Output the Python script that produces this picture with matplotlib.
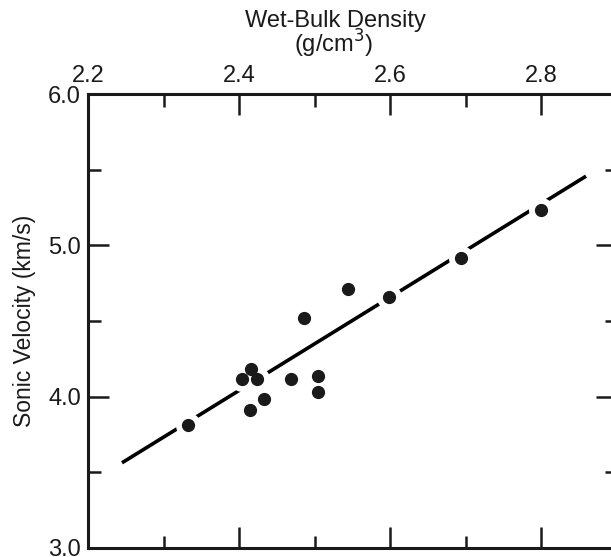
import matplotlib
matplotlib.use("Agg")
import matplotlib.pyplot as plt
import numpy as np
from matplotlib.ticker import MultipleLocator

plt.rcParams['font.family'] = ['Liberation Sans', 'DejaVu Sans']

# ================= DATA =================
density = [2.332, 2.404, 2.416, 2.423, 2.414, 2.433, 2.469,
           2.486, 2.504, 2.504, 2.544, 2.598, 2.693, 2.800]
velocity = [3.815, 4.12, 4.185, 4.117, 3.909, 3.987, 4.117,
            4.519, 4.134, 4.03, 4.713, 4.658, 4.914, 5.234]

# regression line end points
fit_x = [2.245, 2.859]
fit_y = [3.563, 5.457]

# ================= FIGURE =================
W, H = 611, 557
fig = plt.figure(figsize=(W / 100, H / 100), dpi=100)

left, right, top, bottom = 88, 617, 94, 548
ax = fig.add_axes([left / W, 1 - bottom / H, (right - left) / W, (bottom - top) / H])

ax.plot(fit_x, fit_y, color='black', lw=2.6, solid_capstyle='butt', zorder=1)
# white halos break the line around the dots
ax.plot(density, velocity, 'o', ms=18, mfc='white', mec='none', zorder=2)
ax.plot(density, velocity, 'o', ms=8.5, mfc='#1a1a1a', mec='#1a1a1a', zorder=3)

ax.set_xlim(2.2, 2.9)
ax.set_ylim(3.0, 6.0)

ax.xaxis.set_major_locator(MultipleLocator(0.2))
ax.xaxis.set_minor_locator(MultipleLocator(0.1))
ax.yaxis.set_major_locator(MultipleLocator(1.0))
ax.yaxis.set_minor_locator(MultipleLocator(0.5))
ax.xaxis.set_major_formatter(plt.FuncFormatter(lambda v, p: f"{v:.1f}"))
ax.yaxis.set_major_formatter(plt.FuncFormatter(lambda v, p: f"{v:.1f}"))

ax.tick_params(which='both', direction='in', top=True, bottom=True, left=True, right=True,
               labeltop=True, labelbottom=False, labelsize=17, colors='#1a1a1a', pad=5)
ax.tick_params(which='major', length=15, width=1.8)
ax.tick_params(which='minor', length=9, width=1.8)

for s in ax.spines.values():
    s.set_linewidth(2.2)
    s.set_color('#1a1a1a')

ax.set_ylabel("Sonic Velocity (km/s)", fontsize=16.5, color='#1a1a1a', labelpad=9)

fig.text(335 / W, 1 - 27 / H, "Wet-Bulk Density", ha='center', va='baseline',
         fontsize=17, color='#1a1a1a')
fig.text(334 / W, 1 - 53 / H, "(g/cm$^3$)", ha='center', va='baseline',
         fontsize=17, color='#1a1a1a')

fig.savefig("out.png", dpi=100)
